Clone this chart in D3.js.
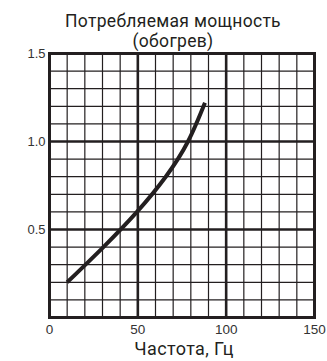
<!DOCTYPE html>
<html>
<head>
<meta charset="utf-8">
<script src="https://cdn.jsdelivr.net/npm/d3@7"></script>
<style>
  html, body { margin: 0; padding: 0; background: #fff; }
</style>
</head>
<body>
<svg id="chart" width="327" height="361"></svg>
<script>
// data
const title = ['Потребляемая мощность', '(обогрев)']
const xTitle = 'Частота, Гц'
const frequency = [10, 30.5, 49.5, 65.8, 78.4, 88]
const power = [0.2, 0.4, 0.6, 0.8, 1.0, 1.22]
const xTicks = [0, 50, 100, 150]
const yTicks = [0.5, 1.0, 1.5]

const width = 327
const height = 361
const margin = { top: 53.5, right: 12.5, bottom: 43.5, left: 49.5 }
const ink = '#231f20'
const titleFont = 'Roboto, Noto Sans, sans-serif'

const svg = d3.select('#chart')

svg.append('rect')
  .attr('width', width)
  .attr('height', height)
  .attr('fill', '#fff')

const x = d3.scaleLinear().domain([0, 150]).range([margin.left, width - margin.right])
const y = d3.scaleLinear().domain([0, 1.5]).range([height - margin.bottom, margin.top])

// grid: minor every 10 Hz / 0.1, major every 50 Hz / 0.5
const grid = svg.append('g').attr('id', 'grid')
const xMinor = d3.range(0, 151, 10)
const yMinor = d3.range(0, 16).map((d) => d / 10)

grid.selectAll('line.vx')
  .data(xMinor)
  .join('line')
  .attr('class', 'vx')
  .attr('x1', (d) => x(d))
  .attr('x2', (d) => x(d))
  .attr('y1', y(0))
  .attr('y2', y(1.5))
  .attr('stroke', ink)
  .attr('stroke-width', (d) => (d % 50 === 0 ? 2.6 : 1.2))

grid.selectAll('line.hy')
  .data(yMinor)
  .join('line')
  .attr('class', 'hy')
  .attr('x1', x(0))
  .attr('x2', x(150))
  .attr('y1', (d) => y(d))
  .attr('y2', (d) => y(d))
  .attr('stroke', ink)
  .attr('stroke-width', (d) => (Math.round(d * 10) % 5 === 0 ? 2.6 : 1.2))

// border
grid.append('rect')
  .attr('x', x(0))
  .attr('y', y(1.5))
  .attr('width', x(150) - x(0))
  .attr('height', y(0) - y(1.5))
  .attr('fill', 'none')
  .attr('stroke', ink)
  .attr('stroke-width', 3)

// the curve
const line = d3.line()
  .x((d, i) => x(frequency[i]))
  .y((d) => y(d))
  .curve(d3.curveNatural)

svg.append('path')
  .attr('d', line(power))
  .attr('fill', 'none')
  .attr('stroke', ink)
  .attr('stroke-width', 4)

// tick labels
svg.append('g')
  .selectAll('text')
  .data(xTicks)
  .join('text')
  .attr('x', (d) => x(d))
  .attr('y', y(0) + 16)
  .attr('text-anchor', 'middle')
  .attr('font-family', 'Liberation Sans, Arial, sans-serif')
  .attr('font-size', 13.5)
  .attr('fill', '#333')
  .text((d) => d)

svg.append('g')
  .selectAll('text')
  .data(yTicks)
  .join('text')
  .attr('x', x(0) - 4)
  .attr('y', (d) => y(d))
  .attr('dy', '0.36em')
  .attr('text-anchor', 'end')
  .attr('font-family', 'Liberation Sans, Arial, sans-serif')
  .attr('font-size', 13)
  .attr('fill', '#333')
  .text((d) => d.toFixed(1))

// titles
svg.append('text')
  .attr('x', 173)
  .attr('y', 26.5)
  .attr('text-anchor', 'middle')
  .attr('font-family', titleFont)
  .attr('font-size', 17.5)
  .attr('letter-spacing', 0.3)
  .attr('fill', ink)
  .selectAll('tspan')
  .data(title)
  .join('tspan')
  .attr('x', 173)
  .attr('dy', (d, i) => (i === 0 ? 0 : 20.5))
  .text((d) => d)

svg.append('text')
  .attr('x', 184)
  .attr('y', 355)
  .attr('text-anchor', 'middle')
  .attr('font-family', titleFont)
  .attr('font-size', 18)
  .attr('letter-spacing', 0.4)
  .attr('fill', ink)
  .text(xTitle)
</script>
</body>
</html>
